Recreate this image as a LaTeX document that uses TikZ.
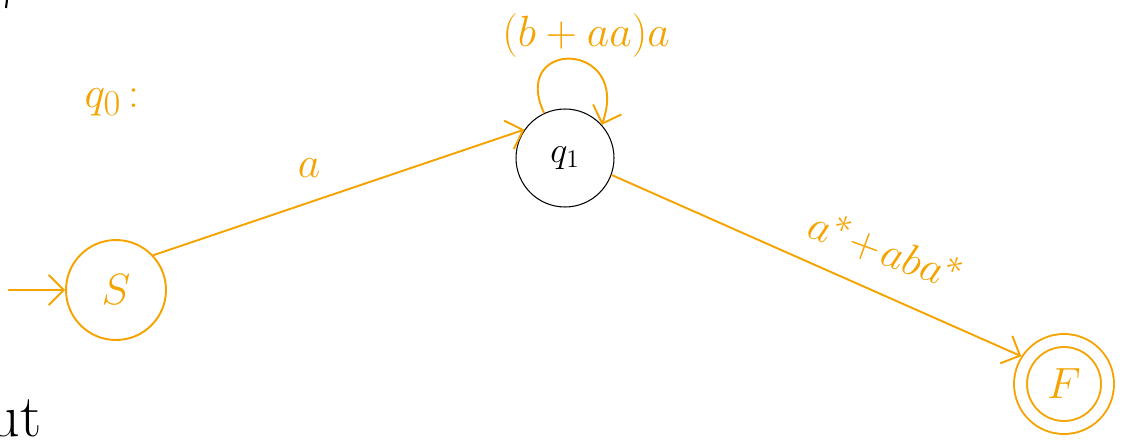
\documentclass[tikz,border=0pt]{standalone}
\usepackage{amsmath}
\usetikzlibrary{arrows.meta}
\definecolor{penorange}{RGB}{245,163,0}
\begin{document}
\begin{tikzpicture}[x=0.02cm, y=-0.02cm, >={Straight Barb[length=3mm, width=6mm]},
  state/.style={draw, circle, line width=1.1pt, inner sep=0pt},
  edge/.style={->, penorange, line width=1.1pt},
  lbl/.style={text=penorange, font=\Huge, inner sep=1pt}]
  \useasboundingbox (0,0) rectangle (1135,442);
  \clip (0,0) rectangle (1135,442);

  % states
  \node[state, penorange, minimum size=2cm, font=\Huge] (S) at (116,290) {$S$};
  \node[state, black, line width=0.6pt, minimum size=1.96cm, font=\huge] (q1) at (565,158) {$q_1$};
  \node[state, penorange, double, double distance=0.22cm, minimum size=1.74cm, outer sep=0.15cm, font=\Huge] (F) at (1064,384) {$F$};

  % initial arrow
  \coordinate (start) at (8,290);
  \draw[edge] (start) -- (S);

  % transitions
  \draw[edge] (S.43) -- (q1.145);
  \draw[edge] (q1.-20) -- (F.147);
  \draw[edge] (q1.115) .. controls +(-35,-75) and +(30,-85) .. (q1.42);

  \node[lbl] (la) at (309,168) {$a$};
  \node[lbl] (lloop) at (586,36) {$(b+aa)a$};
  \node[lbl, rotate=-20] (lout) at (886,250) {$a^{*}\!+\!aba^{*}$};
  \node[lbl] (lq0) at (112,102) {$q_0$\,:};

  % leftovers at the margins
  \node[font=\fontsize{34}{40}\selectfont, anchor=base east, inner sep=0pt] (out) at (42,436) {out};
  \draw[line width=1.2pt] (7,0) -- (6,8);
\end{tikzpicture}
\end{document}
